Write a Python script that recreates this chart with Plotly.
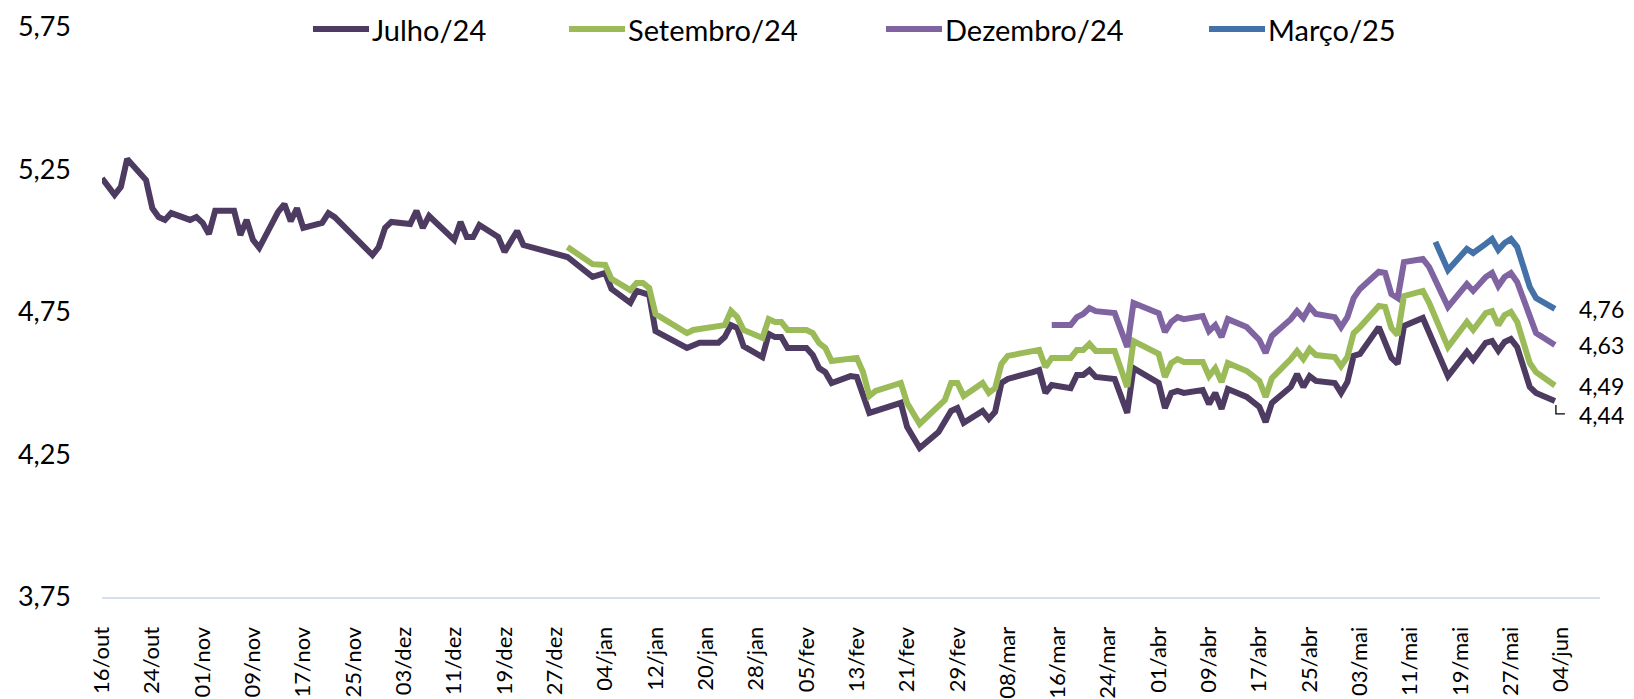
import plotly.graph_objects as go
import pandas as pd

# Taxa implícita por vencimento
julho_datas = [
    "2023-10-16", "2023-10-17", "2023-10-18", "2023-10-19", "2023-10-20", "2023-10-23", "2023-10-24",
    "2023-10-25", "2023-10-26", "2023-10-27", "2023-10-30", "2023-10-31", "2023-11-01", "2023-11-02",
    "2023-11-03", "2023-11-06", "2023-11-07", "2023-11-08", "2023-11-09", "2023-11-10", "2023-11-13",
    "2023-11-14", "2023-11-15", "2023-11-16", "2023-11-17", "2023-11-20", "2023-11-21", "2023-11-22",
    "2023-11-27", "2023-11-28", "2023-11-29", "2023-11-30", "2023-12-01", "2023-12-04", "2023-12-05",
    "2023-12-06", "2023-12-07", "2023-12-11", "2023-12-12", "2023-12-13", "2023-12-14", "2023-12-15",
    "2023-12-18", "2023-12-19", "2023-12-21", "2023-12-22", "2023-12-29", "2024-01-02", "2024-01-04",
    "2024-01-05", "2024-01-08", "2024-01-09", "2024-01-11", "2024-01-12", "2024-01-17", "2024-01-19",
    "2024-01-22", "2024-01-23", "2024-01-24", "2024-01-25", "2024-01-26", "2024-01-29", "2024-01-30",
    "2024-01-31", "2024-02-01", "2024-02-02", "2024-02-05", "2024-02-06", "2024-02-07", "2024-02-08",
    "2024-02-09", "2024-02-12", "2024-02-13", "2024-02-14", "2024-02-15", "2024-02-20", "2024-02-21",
    "2024-02-23", "2024-02-26", "2024-02-28", "2024-02-29", "2024-03-01", "2024-03-04", "2024-03-05",
    "2024-03-06", "2024-03-07", "2024-03-08", "2024-03-12", "2024-03-13", "2024-03-14", "2024-03-15",
    "2024-03-18", "2024-03-19", "2024-03-20", "2024-03-21", "2024-03-22", "2024-03-25", "2024-03-27",
    "2024-03-28", "2024-04-01", "2024-04-02", "2024-04-03", "2024-04-04", "2024-04-05", "2024-04-08",
    "2024-04-09", "2024-04-10", "2024-04-11", "2024-04-12", "2024-04-15", "2024-04-17", "2024-04-18",
    "2024-04-19", "2024-04-22", "2024-04-23", "2024-04-24", "2024-04-25", "2024-04-26", "2024-04-29",
    "2024-04-30", "2024-05-01", "2024-05-02", "2024-05-03", "2024-05-06", "2024-05-08", "2024-05-09",
    "2024-05-10", "2024-05-13", "2024-05-17", "2024-05-20", "2024-05-21", "2024-05-23", "2024-05-24",
    "2024-05-25", "2024-05-26", "2024-05-27", "2024-05-28", "2024-05-30", "2024-05-31", "2024-06-03",
]
julho_taxas = [
    5.219, 5.189, 5.161, 5.189, 5.287, 5.213, 5.114,
    5.083, 5.073, 5.097, 5.073, 5.083, 5.063, 5.024,
    5.105, 5.105, 5.020, 5.073, 5.003, 4.975, 5.101,
    5.129, 5.069, 5.114, 5.045, 5.063, 5.097, 5.083,
    4.968, 4.950, 4.978, 5.045, 5.066, 5.059, 5.105,
    5.045, 5.087, 5.003, 5.066, 5.013, 5.013, 5.055,
    5.013, 4.961, 5.034, 4.985, 4.943, 4.873, 4.887,
    4.831, 4.782, 4.824, 4.810, 4.683, 4.624, 4.642,
    4.642, 4.662, 4.704, 4.694, 4.630, 4.592, 4.673,
    4.662, 4.662, 4.624, 4.624, 4.599, 4.553, 4.539,
    4.501, 4.525, 4.522, 4.459, 4.396, 4.431, 4.347,
    4.273, 4.329, 4.403, 4.413, 4.361, 4.403, 4.375,
    4.400, 4.501, 4.515, 4.539, 4.546, 4.466, 4.494,
    4.483, 4.529, 4.529, 4.546, 4.522, 4.515, 4.396,
    4.553, 4.501, 4.413, 4.466, 4.473, 4.466, 4.476,
    4.427, 4.466, 4.410, 4.480, 4.452, 4.417, 4.364,
    4.431, 4.487, 4.532, 4.487, 4.525, 4.508, 4.501,
    4.466, 4.504, 4.596, 4.603, 4.697, 4.589, 4.568,
    4.701, 4.729, 4.525, 4.610, 4.582, 4.642, 4.648,
    4.614, 4.645, 4.655, 4.627, 4.487, 4.466, 4.438,
]

setembro_datas = [
    "2023-12-29", "2024-01-02", "2024-01-04", "2024-01-05", "2024-01-08", "2024-01-09", "2024-01-10",
    "2024-01-11", "2024-01-12", "2024-01-16", "2024-01-17", "2024-01-18", "2024-01-22", "2024-01-23",
    "2024-01-24", "2024-01-25", "2024-01-26", "2024-01-29", "2024-01-30", "2024-01-31", "2024-02-01",
    "2024-02-02", "2024-02-05", "2024-02-06", "2024-02-07", "2024-02-08", "2024-02-09", "2024-02-13",
    "2024-02-14", "2024-02-15", "2024-02-16", "2024-02-20", "2024-02-21", "2024-02-23", "2024-02-27",
    "2024-02-28", "2024-02-29", "2024-03-01", "2024-03-04", "2024-03-05", "2024-03-06", "2024-03-07",
    "2024-03-08", "2024-03-11", "2024-03-13", "2024-03-14", "2024-03-15", "2024-03-18", "2024-03-19",
    "2024-03-20", "2024-03-21", "2024-03-22", "2024-03-25", "2024-03-27", "2024-03-28", "2024-04-01",
    "2024-04-02", "2024-04-03", "2024-04-04", "2024-04-05", "2024-04-08", "2024-04-09", "2024-04-10",
    "2024-04-11", "2024-04-12", "2024-04-15", "2024-04-17", "2024-04-18", "2024-04-19", "2024-04-22",
    "2024-04-23", "2024-04-24", "2024-04-25", "2024-04-26", "2024-04-29", "2024-04-30", "2024-05-01",
    "2024-05-02", "2024-05-03", "2024-05-06", "2024-05-07", "2024-05-08", "2024-05-09", "2024-05-10",
    "2024-05-13", "2024-05-14", "2024-05-17", "2024-05-20", "2024-05-21", "2024-05-23", "2024-05-24",
    "2024-05-25", "2024-05-26", "2024-05-27", "2024-05-28", "2024-05-30", "2024-05-31", "2024-06-03",
]
setembro_taxas = [
    4.978, 4.918, 4.915, 4.866, 4.827, 4.852, 4.852,
    4.834, 4.743, 4.694, 4.676, 4.687, 4.697, 4.704,
    4.754, 4.732, 4.687, 4.659, 4.725, 4.715, 4.715,
    4.687, 4.687, 4.676, 4.641, 4.624, 4.578, 4.589,
    4.539, 4.455, 4.473, 4.501, 4.431, 4.357, 4.441,
    4.501, 4.501, 4.455, 4.501, 4.466, 4.483, 4.568,
    4.596, 4.606, 4.617, 4.557, 4.589, 4.589, 4.617,
    4.617, 4.638, 4.613, 4.613, 4.487, 4.648, 4.603,
    4.522, 4.571, 4.585, 4.575, 4.575, 4.525, 4.553,
    4.504, 4.571, 4.543, 4.508, 4.452, 4.518, 4.585,
    4.613, 4.585, 4.620, 4.599, 4.592, 4.560, 4.592,
    4.676, 4.697, 4.771, 4.768, 4.694, 4.669, 4.806,
    4.824, 4.782, 4.627, 4.715, 4.687, 4.746, 4.753,
    4.704, 4.739, 4.750, 4.715, 4.571, 4.539, 4.492,
]

dezembro_datas = [
    "2024-03-15", "2024-03-18", "2024-03-19", "2024-03-20", "2024-03-21", "2024-03-22", "2024-03-25",
    "2024-03-27", "2024-03-28", "2024-04-01", "2024-04-02", "2024-04-03", "2024-04-04", "2024-04-05",
    "2024-04-08", "2024-04-09", "2024-04-10", "2024-04-11", "2024-04-12", "2024-04-15", "2024-04-17",
    "2024-04-18", "2024-04-19", "2024-04-22", "2024-04-23", "2024-04-24", "2024-04-25", "2024-04-26",
    "2024-04-29", "2024-04-30", "2024-05-01", "2024-05-02", "2024-05-03", "2024-05-06", "2024-05-07",
    "2024-05-08", "2024-05-09", "2024-05-10", "2024-05-13", "2024-05-14", "2024-05-17", "2024-05-20",
    "2024-05-21", "2024-05-23", "2024-05-24", "2024-05-25", "2024-05-26", "2024-05-27", "2024-05-28",
    "2024-05-30", "2024-05-31", "2024-06-03",
]
dezembro_taxas = [
    4.704, 4.704, 4.732, 4.743, 4.764, 4.753, 4.746,
    4.627, 4.782, 4.746, 4.680, 4.715, 4.732, 4.725,
    4.736, 4.683, 4.704, 4.662, 4.725, 4.697, 4.652,
    4.606, 4.666, 4.725, 4.753, 4.729, 4.768, 4.743,
    4.732, 4.697, 4.732, 4.799, 4.831, 4.891, 4.887,
    4.813, 4.799, 4.925, 4.936, 4.908, 4.768, 4.848,
    4.824, 4.873, 4.887, 4.841, 4.873, 4.887, 4.855,
    4.725, 4.676, 4.634,
]

marco_datas = [
    "2024-05-15", "2024-05-16", "2024-05-17", "2024-05-20", "2024-05-21", "2024-05-23", "2024-05-24",
    "2024-05-25", "2024-05-26", "2024-05-27", "2024-05-28", "2024-05-29", "2024-05-30", "2024-05-31",
    "2024-06-03",
]
marco_taxas = [
    4.996, 4.950, 4.897, 4.971, 4.957, 4.989, 5.006,
    4.968, 4.992, 5.006, 4.978, 4.908, 4.838, 4.799,
    4.761,
]

nomes = ["Julho/24", "Setembro/24", "Dezembro/24", "Março/25"]
cores = ["#4D3B62", "#9BBB59", "#8064A2", "#4472A8"]
series = [
    (julho_datas, julho_taxas),
    (setembro_datas, setembro_taxas),
    (dezembro_datas, dezembro_taxas),
    (marco_datas, marco_taxas),
]

meses_pt = ["jan", "fev", "mar", "abr", "mai", "jun", "jul", "ago", "set", "out", "nov", "dez"]
ticks_x = pd.date_range("2023-10-16", "2024-06-04", freq="8D")
ticks_txt = [f"{d.day:02d}/{meses_pt[d.month - 1]}" for d in ticks_x]

FONTE = "Lato"
# a página tem margem de 8px no body: a figura é reduzida para caber na janela
OFF = 8
W, H = 1634 - OFF, 699 - OFF
L, R, T, B = 102 - OFF, 1600 - OFF, 27 - OFF, 597 - OFF

fig = go.Figure()

for (datas, taxas), nome, cor in zip(series, nomes, cores):
    fig.add_trace(go.Scatter(
        x=datas, y=taxas, name=nome, mode="lines",
        line=dict(color=cor, width=6), showlegend=False,
    ))

# rótulos do último valor
deslocamentos = {"Julho/24": -14, "Setembro/24": 0, "Dezembro/24": 0, "Março/25": 0}
for (datas, taxas), nome in zip(series, nomes):
    fig.add_annotation(
        x=datas[-1], y=taxas[-1], text=f"{taxas[-1]:.2f}".replace(".", ","),
        showarrow=False, xanchor="left", yanchor="middle", xshift=22,
        yshift=deslocamentos[nome], font=dict(family=FONTE, size=23, color="#000000"),
    )

# linha guia do rótulo de Julho/24
fig.add_shape(
    type="path", xref="x", yref="y", xsizemode="pixel", ysizemode="pixel",
    xanchor=julho_datas[-1], yanchor=julho_taxas[-1],
    path="M 1,-4 L 1,-13 L 10,-13", line=dict(color="#000000", width=1.3),
)


# legenda desenhada à mão (posição como no original)
def px(xp):
    return (xp - OFF - L) / (R - L)


def py(yp):
    return (B - (yp - OFF)) / (B - T)


legenda_x = [313, 569, 886, 1209]
for nome, cor, x0 in zip(nomes, cores, legenda_x):
    fig.add_shape(type="line", xref="paper", yref="paper",
                  x0=px(x0), x1=px(x0 + 56), y0=py(29), y1=py(29),
                  line=dict(color=cor, width=6))
    fig.add_annotation(x=px(x0 + 57), y=py(29), xref="paper", yref="paper",
                       text=nome, showarrow=False, xanchor="left", yanchor="middle",
                       font=dict(family=FONTE, size=29, color="#000000"))

fig.update_layout(
    width=W, height=H,
    margin=dict(l=L, r=W - R, t=T, b=H - B),
    paper_bgcolor="white", plot_bgcolor="white",
    separators=",.",
    font=dict(family=FONTE, size=27, color="#000000"),
    showlegend=False,
)
fig.update_xaxes(
    type="date", range=["2023-10-16", "2024-06-10 04:00"],
    tickvals=ticks_x, ticktext=ticks_txt, tickangle=-90,
    showgrid=False, zeroline=False, ticks="",
    showline=True, linecolor="#D5DFEE", linewidth=2,
    ticklabelstandoff=19, automargin=False,
    tickfont=dict(family=FONTE, size=22),
)
fig.update_yaxes(
    range=[3.75, 5.75], tickvals=[3.75, 4.25, 4.75, 5.25, 5.75], tickformat=".2f",
    showgrid=False, zeroline=False, showline=False, ticks="",
    ticklabelstandoff=30, automargin=False,
    tickfont=dict(family=FONTE, size=27),
)

fig.write_html("out.html")
